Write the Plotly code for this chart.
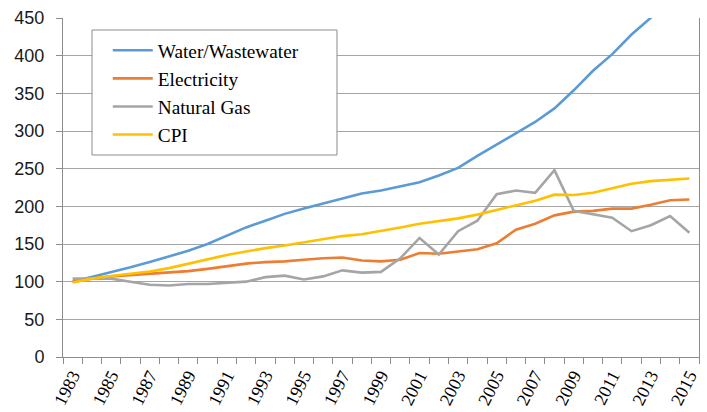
import plotly.graph_objects as go

years = list(range(1983, 2016))

water = [100, 106, 113, 119, 126, 133, 141, 150, 161, 172, 181, 190, 197, 204, 210, 217,
         221, 226, 232, 241, 251, 267, 282, 296, 312, 330, 354, 380, 402, 428, 450, 472, 495]
electricity = [100, 104, 107, 109, 110, 112, 114, 117, 121, 124, 126, 127, 129, 131, 132, 128,
               127, 129, 138, 137, 140, 143, 151, 169, 177, 188, 193, 194, 197, 197, 202, 208, 209]
natural_gas = [104, 104, 104, 100, 96, 95, 97, 97, 98, 100, 106, 108, 103, 107, 115, 112,
               113, 131, 158, 136, 167, 181, 216, 221, 218, 248, 194, 190, 185, 167, 175, 187, 165]
cpi = [99, 104, 107.5, 110, 113.5, 118, 124, 130, 135.5, 140, 144.5, 148, 152, 157, 160.5, 163,
       167, 172, 177, 180, 184, 189, 195.5, 201.5, 207.5, 215.5, 215, 218, 224.5, 230, 233.5, 235.5, 237]

series = [
    ("Water/Wastewater", water, "#5B9BD5"),
    ("Electricity", electricity, "#ED7D31"),
    ("Natural Gas", natural_gas, "#A5A5A5"),
    ("CPI", cpi, "#FFC000"),
]

label_years = [y for y in years if y % 2 == 1]

fig = go.Figure()
for i, (name, vals, color) in enumerate(series):
    fig.add_trace(go.Scatter(
        x=years, y=vals, name=name, mode="lines",
        line=dict(color=color, width=2.6),
        legendgroup=f"g{i}",
    ))

serif = "Liberation Serif, Times New Roman, serif"

fig.update_layout(
    width=707, height=412,
    margin=dict(l=63, r=8, t=18, b=55),
    paper_bgcolor="white", plot_bgcolor="white",
    showlegend=True,
    legend=dict(
        x=0.0704, y=0.961, xanchor="left", yanchor="top",
        bgcolor="rgba(0,0,0,0)", borderwidth=0, itemwidth=40,
        font=dict(family=serif, size=19.3, color="black"),
        tracegroupgap=0, traceorder="normal",
    ),
    shapes=[dict(
        type="rect", xref="paper", yref="paper",
        x0=0.0456, x1=0.4308, y0=0.5959, y1=0.9646,
        line=dict(color="#8c8c8c", width=1), fillcolor="white", layer="above",
    )],
)

fig.update_xaxes(
    range=[1982.5, 2015.5], automargin=False,
    tickmode="array", tickvals=label_years, ticktext=[str(y) for y in label_years],
    tickangle=-63, ticks="", showgrid=False, zeroline=False,
    tickfont=dict(family=serif, size=18, color="black"),
    showline=True, linecolor="#8c8c8c", linewidth=1,
    minor=dict(ticks="outside", ticklen=6, tickcolor="#8c8c8c",
               tickmode="linear", tick0=1982.5, dtick=1, showgrid=False),
)

fig.update_yaxes(
    range=[0, 450], dtick=50, tick0=0, automargin=False,
    showgrid=True, gridcolor="#a6a6a6", gridwidth=1, zeroline=False,
    showline=True, mirror=True, linecolor="#8c8c8c", linewidth=1,
    ticks="outside", ticklen=6, tickcolor="#8c8c8c",
    tickfont=dict(family="Liberation Sans, Arial, sans-serif", size=18, color="#1a1a1a"),
    ticklabelstandoff=8,
)

# the page body has a default 8px margin; drop it so the figure fills the window
fig.write_html("out.html", config={"displayModeBar": False},
               post_script="document.body.style.margin = '0';")
